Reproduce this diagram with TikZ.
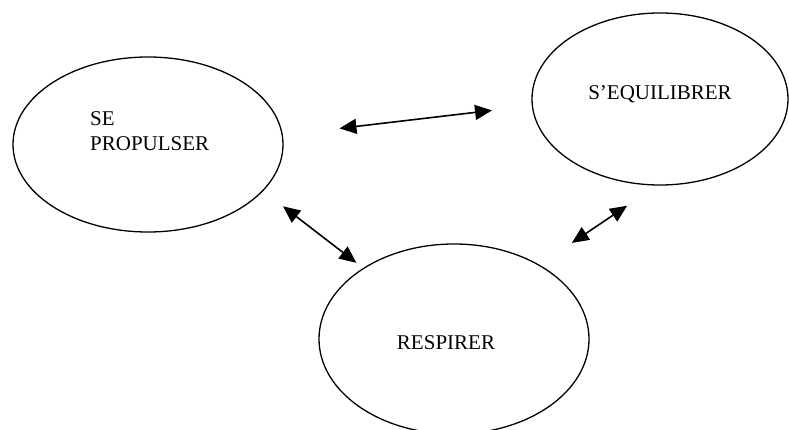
\documentclass[tikz,border=0pt]{standalone}
\usepackage{fontspec}
\setmainfont{Liberation Serif}
\usetikzlibrary{shapes.geometric,arrows.meta}

\begin{document}
\begin{tikzpicture}[x=1pt,y=-1pt,
  bulle/.style={draw,ellipse,line width=1.3pt,inner sep=0pt},
  mot/.style={font=\fontsize{21}{25}\selectfont,inner sep=0pt},
  fleche/.style={{Triangle[length=17pt,width=15pt]}-{Triangle[length=17pt,width=15pt]},line width=1.6pt}]
\useasboundingbox (0,0) rectangle (789,430);
% les trois bulles
\node[bulle,minimum width=270pt,minimum height=175pt] (prop) at (148,144.5) {};
\node[bulle,minimum width=256pt,minimum height=172pt] (equi) at (660,99) {};
\node[bulle,minimum width=270pt,minimum height=190pt] (resp) at (454,339) {};
\node[mot,align=left,anchor=north west] (tprop) at (90,111.5) {SE\\PROPULSER};
\node[mot,anchor=base] (tequi) at (660,100) {S’EQUILIBRER};
\node[mot,anchor=base] (tresp) at (446,349) {RESPIRER};
% liens
\draw[fleche,shorten <=57pt,shorten >=40pt] (prop.4) -- (equi.183);
\draw[fleche,shorten <=25pt,shorten >=8.5pt] (prop.-22) -- (resp.142);
\draw[fleche,shorten <=39pt,shorten >=36pt] (resp.41) -- (equi.268);
\end{tikzpicture}
\end{document}
